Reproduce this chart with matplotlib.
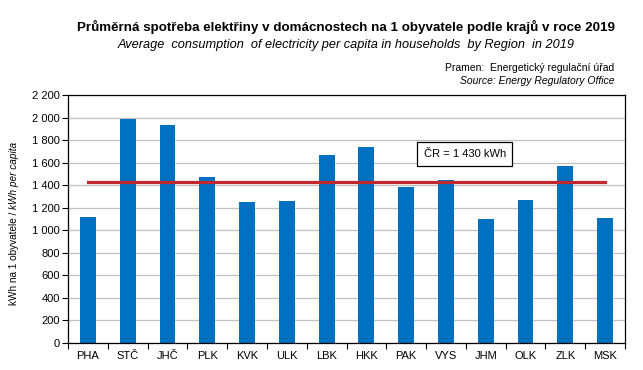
import matplotlib
matplotlib.use("Agg")
import matplotlib.pyplot as plt
import numpy as np
from matplotlib.ticker import FixedLocator, FuncFormatter

plt.rcParams['font.family'] = ['Liberation Sans', 'DejaVu Sans']

regions = ["PHA", "STČ", "JHČ", "PLK", "KVK", "ULK", "LBK", "HKK", "PAK", "VYS", "JHM", "OLK", "ZLK", "MSK"]
consumption = [1119, 1987, 1934, 1473, 1252, 1261, 1668, 1739, 1388, 1447, 1101, 1272, 1571, 1110]
cr_average = 1430
y_ticks = list(range(0, 2201, 200))

W, H = 643, 370
fig = plt.figure(figsize=(W / 100, H / 100), dpi=100)
ax = fig.add_axes([68 / W, 27 / H, (625 - 68) / W, (343 - 95) / H])

x = np.arange(len(regions))
ax.bar(x, consumption, width=0.4, color="#0070C0", zorder=2)
ax.plot([x[0], x[-1]], [cr_average, cr_average], color="#C0282D", lw=2.3, zorder=3)

ax.set_xlim(-0.5, len(regions) - 0.5)
ax.set_ylim(0, 2200)
ax.yaxis.set_major_locator(FixedLocator(y_ticks))
ax.yaxis.set_major_formatter(FuncFormatter(lambda v, p: f"{int(v):,}".replace(",", " ")))
ax.set_xticks(x)
ax.set_xticklabels(regions)
ax.set_xticks(np.arange(-0.5, len(regions)), minor=True)
ax.tick_params(axis="x", which="major", length=0, pad=6, labelsize=8)
ax.tick_params(axis="x", which="minor", length=4, width=0.8, direction="out")
ax.tick_params(axis="y", length=4, width=0.8, direction="out", labelsize=8, pad=2)
ax.grid(axis="y", color="#C0C0C0", lw=0.9, zorder=0)
ax.set_axisbelow(True)
for s in ax.spines.values():
    s.set_color("black")
    s.set_linewidth(0.9)

ax.text(9.47, 1677, "ČR = 1 430 kWh", fontsize=8, ha="center", va="center",
        bbox=dict(boxstyle="square,pad=0.6", fc="white", ec="black", lw=0.9), zorder=4)

fig.text(346 / W, 1 - 27 / H, "Průměrná spotřeba elektřiny v domácnostech na 1 obyvatele podle krajů v roce 2019",
         ha="center", va="center", fontsize=9.6, fontweight="bold")
fig.text(346 / W, 1 - 45 / H, "Average  consumption  of electricity per capita in households  by Region  in 2019",
         ha="center", va="center", fontsize=9.2, style="italic")
fig.text(614 / W, 1 - 68 / H, "Pramen:  Energetický regulační úřad", ha="right", va="center", fontsize=7.5)
fig.text(614 / W, 1 - 81 / H, "Source: Energy Regulatory Office", ha="right", va="center", fontsize=7.5, style="italic")

t1 = fig.text(14 / W, 1 - 305 / H, "kWh na 1 obyvatele / ", rotation=90, ha="center", va="bottom", fontsize=7.2)
fig.canvas.draw()
bb = t1.get_window_extent(fig.canvas.get_renderer())
fig.text(14 / W, bb.y1 / H, "kWh per capita", rotation=90, ha="center", va="bottom", fontsize=7.2, style="italic")

fig.savefig("out.png", dpi=100)
